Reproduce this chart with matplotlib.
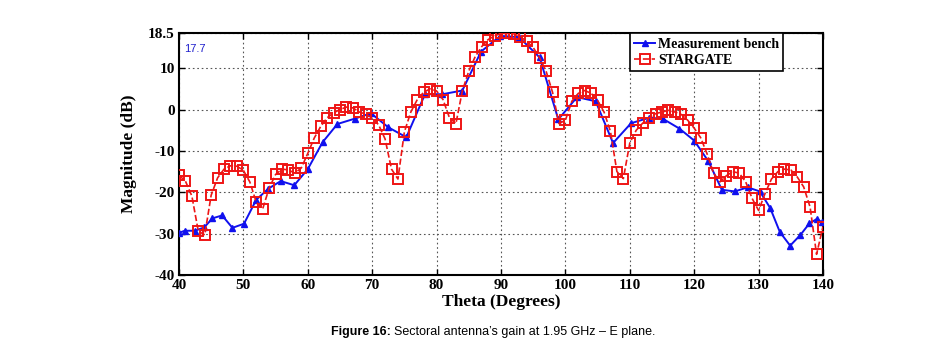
import matplotlib
matplotlib.use("Agg")
import matplotlib.pyplot as plt

# Measurement bench (blue, triangles)
bench_theta = [40, 40.9, 42.5, 43.9, 45.2, 46.7, 48.3, 50.1, 52.0, 53.9, 55.8, 57.9,
               60.0, 62.3, 64.6, 67.3, 69.8, 72.5, 75.3, 78.2, 80.9, 84.0, 86.9,
               89.9, 92.8, 96.0, 98.9, 101.8, 104.7, 107.4, 110.2, 113.0, 115.1,
               117.7, 120.0, 122.2, 124.3, 126.3, 128.3, 130.2, 131.8, 133.3,
               134.9, 136.5, 137.9, 139.0, 139.8]
bench_gain = [-29.8, -29.3, -29.3, -28.5, -26.3, -25.6, -28.6, -27.6, -21.8, -19.1,
              -17.3, -18.3, -14.4, -7.9, -3.5, -2.2, -0.9, -4.3, -6.7, 3.7, 3.7,
              4.6, 14.0, 17.8, 17.5, 12.6, -2.4, 3.0, 2.0, -8.1, -3.3, -2.0, -2.2,
              -4.6, -7.5, -12.5, -19.4, -19.8, -18.8, -19.8, -23.8, -29.6, -32.9,
              -30.3, -27.5, -26.5, -27.2]

# STARGATE (red, squares) at 1-degree steps from 40 to 140
star_theta = list(range(40, 141))
star_gain = [-15.9, -17.3, -20.9, -29.4, -30.3, -20.7, -16.5, -14.4, -13.6, -13.7,
             -14.7, -17.5, -22.4, -24.0, -19.0, -15.7, -14.4, -14.6, -15.4, -14.1,
             -10.6, -6.9, -4.1, -2.0, -0.8, 0.0, 0.6, 0.4, -0.6, -1.1,
             -2.0, -3.7, -7.1, -14.4, -16.8, -5.4, -0.6, 2.4, 4.2, 5.0,
             4.5, 2.4, -2.0, -3.4, 4.5, 9.3, 12.8, 15.2, 16.9, 17.8,
             18.4, 18.4, 18.3, 17.6, 16.5, 15.0, 12.5, 9.3, 4.2, -3.4,
             -2.6, 2.0, 3.9, 4.6, 3.9, 2.2, -0.6, -5.3, -15.0, -16.7,
             -8.1, -5.0, -3.3, -2.0, -1.0, -0.6, -0.2, -0.6, -1.2, -2.6,
             -4.5, -6.8, -10.7, -15.4, -17.5, -16.0, -15.0, -15.4, -17.5, -21.5,
             -24.4, -20.3, -16.8, -15.0, -14.4, -14.6, -16.3, -18.7, -23.6, -35.0,
             -28.3]

x_ticks = [40, 50, 60, 70, 80, 90, 100, 110, 120, 130, 140]
y_ticks = [18.5, 10, 0, -10, -20, -30, -40]
y_ticklabels = ["18.5", "10", "0", "-10", "-20", "-30", "-40"]

serif = ["Liberation Serif", "DejaVu Serif"]
sans = ["Liberation Sans", "DejaVu Sans"]

fig = plt.figure(figsize=(9.51, 3.56), dpi=100)
ax = fig.add_axes([0.1882, 0.2275, 0.8654 - 0.1882, 0.9073 - 0.2275])

ax.plot(bench_theta, bench_gain, color="#1010ee", lw=1.4, marker="^", ms=4.5,
        label="Measurement bench", zorder=3)
ax.plot(star_theta, star_gain, color="#ee1515", lw=1.2, ls="--", marker="s", ms=6.5,
        mfc="none", mew=1.4, label="STARGATE", zorder=4)

ax.set_xlim(40, 140)
ax.set_ylim(-40, 18.5)
ax.set_xticks(x_ticks)
ax.set_yticks(y_ticks)
ax.set_yticklabels(y_ticklabels)
ax.tick_params(direction="in", length=4, width=1, top=True, right=True,
               labelsize=11, pad=3)
for lab in ax.get_xticklabels() + ax.get_yticklabels():
    lab.set_fontfamily(serif)
    lab.set_fontweight("bold")
for s in ax.spines.values():
    s.set_linewidth(1.5)
ax.grid(True, color="#555555", ls=(0, (1.5, 2.5)), lw=0.8)

ax.set_xlabel("Theta (Degrees)", fontfamily=serif, fontweight="bold",
              fontsize=12.5, labelpad=1)
ax.set_ylabel("Magnitude (dB)", fontfamily=serif, fontweight="bold",
              fontsize=12.5, labelpad=8)

ax.text(0.008, 0.955, "17.7", transform=ax.transAxes, color="#2020cc",
        fontsize=8, fontfamily=sans, va="top", ha="left")

leg = ax.legend(loc="upper right", bbox_to_anchor=(0.9425, 1.01),
                prop={"family": serif, "weight": "bold", "size": 10},
                fancybox=False, framealpha=1, edgecolor="black",
                borderpad=0.3, labelspacing=0.25, handlelength=1.5,
                handletextpad=0.2, borderaxespad=0.2)
leg.get_frame().set_linewidth(1.2)

t1 = fig.text(0.348, 0.067, "Figure 16:", ha="left", va="center", fontsize=9,
              fontweight="bold", fontfamily=sans)
fig.canvas.draw()
bb = t1.get_window_extent()
x2 = fig.transFigure.inverted().transform((bb.x1, 0))[0]
fig.text(x2 + 0.003, 0.067, "Sectoral antenna\u2019s gain at 1.95 GHz \u2013 E plane.",
         ha="left", va="center", fontsize=9, fontfamily=sans)

fig.savefig("out.png", dpi=100)
